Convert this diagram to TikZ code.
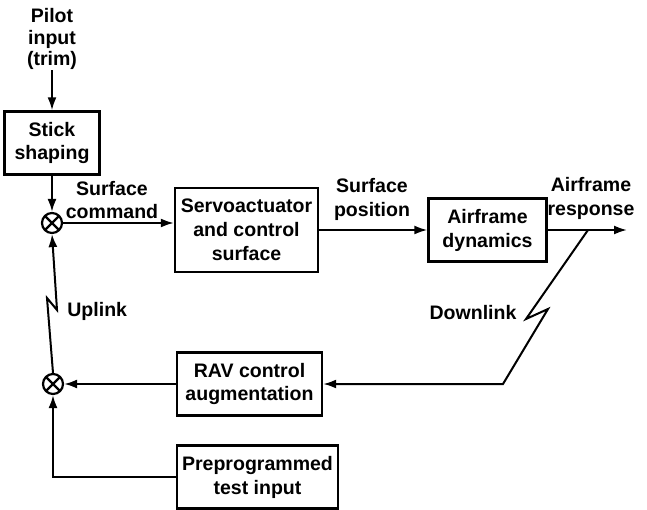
\documentclass[tikz,border=0pt]{standalone}
\usepackage{fontspec}
\setmainfont{Liberation Sans}
\usetikzlibrary{arrows.meta, positioning}

\begin{document}
\begin{tikzpicture}[
  x=0.5bp, y=-0.5bp,
  font=\fontsize{9.8}{12}\selectfont\bfseries,
  box/.style={draw, line width=1.2bp, align=center, inner sep=1bp,
              minimum height=31.5bp},
  lbl/.style={align=center, inner sep=0pt},
  sum/.style={draw, circle, line width=1.1bp, minimum size=10bp, inner sep=0pt,
              path picture={
                \draw[line width=1.1bp]
                  ([shift={(-3.6bp,-3.6bp)}]path picture bounding box.center) --
                  ([shift={(3.6bp,3.6bp)}]path picture bounding box.center)
                  ([shift={(-3.6bp,3.6bp)}]path picture bounding box.center) --
                  ([shift={(3.6bp,-3.6bp)}]path picture bounding box.center);}},
  arr/.style={-{Latex[length=6.5bp,width=4.5bp]}, line width=1bp},
  wire/.style={line width=1bp}
]
  \useasboundingbox (0,0) rectangle (647,510);

  % blocks
  \node[lbl, font=\fontsize{9.8}{11}\selectfont\bfseries] (pilot) at (52,39) {Pilot\\input\\(trim)};
  \node[box, minimum width=47.5bp] (stick) at (52,143) {Stick\\shaping};
  \node[sum] (sum1) at (52,223) {};
  \node[box, minimum width=71.5bp, minimum height=42bp] (servo) at (246.5,230)
       {Servoactuator\\and control\\surface};
  \node[box, minimum width=59bp] (air) at (487.5,230) {Airframe\\dynamics};
  \node[box, minimum width=72.5bp] (rav) at (249.5,384) {RAV control\\augmentation};
  \node[sum] (sum2) at (53,384) {};
  \node[box, minimum width=80.5bp] (prog) at (257.5,477) {Preprogrammed\\test input};

  % labels
  \node[lbl] (cmd) at (112,200) {Surface\\command};
  \node[lbl] (pos) at (372,199) {Surface\\position};
  \node[lbl] (resp) at (591,198) {Airframe\\response};
  \node[lbl, anchor=west] (up) at (67,311) {Uplink};
  \node[lbl] (down) at (473,313) {Downlink};

  \coordinate (out) at (627,230);
  \coordinate (tap) at (588,230);
  \coordinate (dz1) at (526,319);
  \coordinate (dz2) at (548,309);
  \coordinate (dcorner) at (503,384);
  \coordinate (uz1) at (47,298);
  \coordinate (uz2) at (57,310);

  % forward path
  \draw[arr] (pilot) -- (stick);
  \draw[arr] (stick) -- (sum1);
  \draw[arr] (sum1.east) -- (sum1 -| servo.west);
  \draw[arr] (servo.east) -- (servo.east -| air.west);
  \draw[arr] (air.east) -- (out);

  % feedback path
  \draw[arr] (tap) -- (dz1) -- (dz2) -- (dcorner) -- (rav.east);
  \draw[arr] (rav.west) -- (sum2.east);
  \draw[arr] (prog.west) -- (sum2 |- prog.west) -- (sum2.south);
  \draw[arr] (sum2.north) -- (uz1) -- (uz2) -- (sum1.south);
\end{tikzpicture}
\end{document}
